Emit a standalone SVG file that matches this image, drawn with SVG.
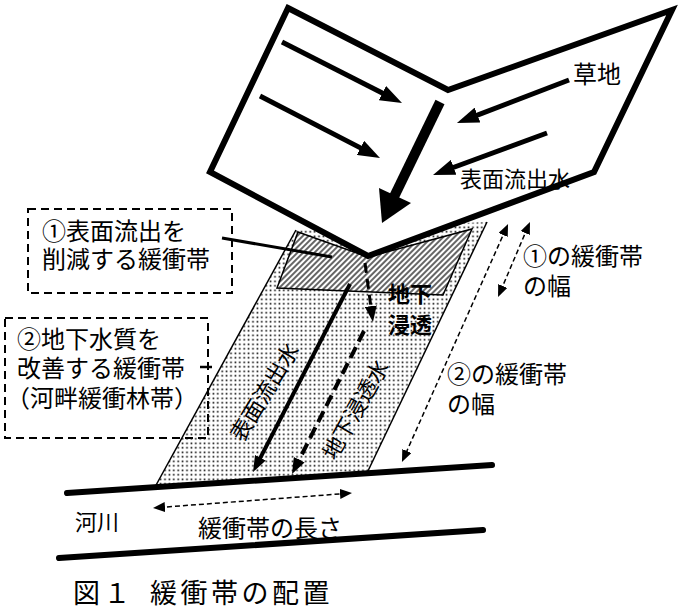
<svg xmlns="http://www.w3.org/2000/svg" width="682" height="615" viewBox="0 0 682 615">
<defs>
<style>
text{font-family:"Liberation Serif","Noto Sans CJK JP","Noto Sans CJK SC",serif;fill:#000}
.t24{font-size:24px}
.t22{font-size:22px}
.b{font-weight:bold}
.thick{stroke:#000;fill:none;stroke-width:5}
.dbox{fill:none;stroke:#000;stroke-width:2;stroke-dasharray:8 5}
.thin{stroke:#000;fill:none;stroke-width:1.5}
.dim{stroke:#000;fill:none;stroke-width:1.5;stroke-dasharray:5 3}
.bank{stroke:#000;stroke-width:6;stroke-linecap:round;fill:none}
</style>
<pattern id="dots" patternUnits="userSpaceOnUse" width="4.4" height="4.5">
<rect width="4.4" height="4.5" fill="#fff"/>
<rect x="1.4" y="1.5" width="1.6" height="1.6" fill="#000"/>
</pattern>
<pattern id="hatch" patternUnits="userSpaceOnUse" width="4" height="4" patternTransform="rotate(45)">
<rect width="4" height="4" fill="#fff"/>
<line x1="1" y1="0" x2="1" y2="4" stroke="#000" stroke-width="1.2"/>
</pattern>
<marker id="ah" markerUnits="userSpaceOnUse" viewBox="0 0 22 16" refX="12" refY="8" markerWidth="22" markerHeight="16" orient="auto">
<path d="M0,0 L22,8 L0,16 z" fill="#000"/>
</marker>
<marker id="ahs" markerUnits="userSpaceOnUse" viewBox="0 0 16 12" refX="8" refY="6" markerWidth="16" markerHeight="12" orient="auto">
<path d="M0,0 L16,6 L0,12 z" fill="#000"/>
</marker>
<marker id="ahd" markerUnits="userSpaceOnUse" viewBox="0 0 12 10" refX="6" refY="5" markerWidth="12" markerHeight="10" orient="auto-start-reverse">
<path d="M0,0 L12,5 L0,10 z" fill="#000"/>
</marker>
</defs>
<rect width="682" height="615" fill="#fff"/>

<g id="buffer-strip">
<polygon points="296,230 487,222 367,473 155,487" fill="url(#dots)"/>
<line class="thin" x1="296" y1="230" x2="155" y2="487"/>
<line class="thin" x1="487" y1="222" x2="367" y2="473"/>
</g>

<g id="buffer-zone-1">
<polygon points="298,232 368,257 472,229 443,295 277,288" fill="url(#hatch)" stroke="#000" stroke-width="1.5"/>
</g>

<g id="grassland">
<polygon points="288,8 448,90 672,10 594,172 368,256 210,172" fill="#fff" stroke="#000" stroke-width="6"/>
<text class="t24" x="573" y="83">草地</text>
<text class="t22" x="460" y="187">表面流出水</text>
</g>

<g id="connectors">
<line class="thick" x1="282" y1="42" x2="393.1" y2="98.5" marker-end="url(#ah)"/>
<line class="thick" x1="260" y1="96" x2="371.1" y2="153.4" marker-end="url(#ah)"/>
<line class="thick" x1="569" y1="80" x2="466.3" y2="119.4" marker-end="url(#ah)"/>
<line class="thick" x1="547" y1="133" x2="442.4" y2="171.5" marker-end="url(#ah)"/>
<line x1="440" y1="102" x2="391" y2="203" stroke="#000" stroke-width="10"/>
<polygon points="382,223 379,188 411,203" fill="#000"/>
<line x1="350" y1="284" x2="256.7" y2="464.9" stroke="#000" stroke-width="4" marker-end="url(#ahs)"/>
<line x1="364" y1="331" x2="295.6" y2="466.9" stroke="#000" stroke-width="4" stroke-dasharray="12 6" marker-end="url(#ahs)"/>
<line x1="365" y1="263" x2="371.9" y2="314.1" stroke="#000" stroke-width="3" stroke-dasharray="10 6" marker-end="url(#ahs)"/>
<line class="dim" x1="505.6" y1="229.5" x2="404.4" y2="456.5" marker-start="url(#ahd)" marker-end="url(#ahd)"/>
<line class="dim" x1="527.6" y1="227.5" x2="500.4" y2="291.5" marker-start="url(#ahd)" marker-end="url(#ahd)"/>
<line class="dim" x1="159" y1="507.5" x2="346" y2="493.5" marker-start="url(#ahd)" marker-end="url(#ahd)"/>
<line x1="222" y1="238" x2="332" y2="257" stroke="#000" stroke-width="3"/>
<line x1="200" y1="367" x2="212" y2="367" stroke="#000" stroke-width="2.5"/>
</g>

<g id="strip-labels">
<text class="t22" x="265" y="392.5" text-anchor="middle" dominant-baseline="central" transform="rotate(-58.6 265 392.5)">表面流出水</text>
<text class="t22" x="356" y="410" text-anchor="middle" dominant-baseline="central" transform="rotate(-60.6 356 410)">地下浸透水</text>
<text class="t22 b" x="388" y="302">地下</text>
<text class="t22 b" x="388" y="333">浸透</text>
</g>

<g id="river">
<line class="bank" x1="67" y1="493" x2="492" y2="465"/>
<line class="bank" x1="59" y1="558" x2="483" y2="530"/>
<text class="t22" x="75" y="530">河川</text>
<text class="t24" x="198" y="537">緩衝帯の長さ</text>
</g>

<g id="label-box-1">
<rect class="dbox" x="28" y="209" width="204" height="84"/>
<text class="t24" x="42" y="240">①表面流出を</text>
<text class="t24" x="42" y="268">削減する緩衝帯</text>
</g>

<g id="label-box-2">
<rect class="dbox" x="5" y="318" width="203" height="120"/>
<text class="t24" x="17" y="348">②地下水質を</text>
<text class="t24" x="17" y="377">改善する緩衝帯</text>
<text class="t24" x="6" y="407">（河畔緩衝林帯）</text>
</g>

<g id="width-labels">
<text class="t24" x="523" y="265">①の緩衝帯</text>
<text class="t24" x="523" y="295">の幅</text>
<text class="t24" x="447" y="383">②の緩衝帯</text>
<text class="t24" x="447" y="413">の幅</text>
</g>

<g id="caption">
<text x="73" y="603" style="font-size:27px;letter-spacing:3.5px">図１<tspan x="150">緩衝帯の配置</tspan></text>
</g>
</svg>
